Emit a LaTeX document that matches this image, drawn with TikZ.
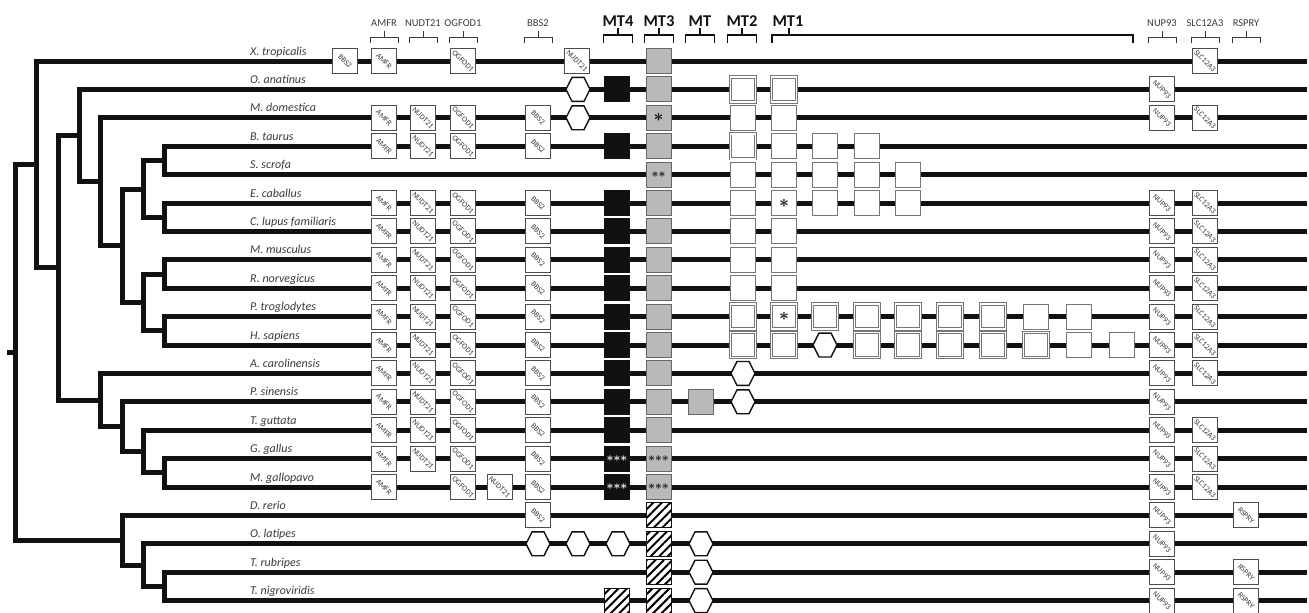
\documentclass[tikz,border=0pt]{standalone}
\usepackage{fontspec}
\setmainfont{Carlito}
\usetikzlibrary{shapes.geometric, patterns.meta}
\definecolor{ink}{HTML}{111111}
\definecolor{mute}{HTML}{3A3A3A}
\definecolor{edge}{HTML}{767676}
\definecolor{shade}{HTML}{B9B9B9}
\tikzset{
  branch/.style ={draw=ink, line width=5pt},
  species/.style={font=\fontsize{12}{14}\selectfont\itshape, text=mute,
                  anchor=base west, inner sep=0pt},
  glabel/.style ={font=\fontsize{10.5}{12}\selectfont, text=mute},
  mtlabel/.style={font=\fontsize{16.5}{18}\selectfont\bfseries, text=ink},
  brak/.style   ={draw=mute, line width=0.8pt},
  brakb/.style  ={draw=ink, line width=1.6pt},
  cell/.style   ={minimum size=25pt, inner sep=0pt, line width=0.9pt},
  gene/.style   ={cell, draw=black!70, fill=white,
                  font=\fontsize{7.8}{9}\selectfont, text=mute},
  mtw/.style    ={cell, draw=edge, fill=white, text=ink},
  mtd/.style    ={cell, draw=edge, double=white, double distance=1.6pt, fill=white, text=ink},
  mtk/.style    ={cell, draw=ink, fill=ink, text=white},
  mtg/.style    ={cell, draw=black!60, fill=shade, text=ink},
  mth/.style    ={cell, draw=ink, preaction={fill=white},
                  pattern={Lines[angle=45, distance=6pt, line width=2pt]}},
  hexa/.style   ={regular polygon, regular polygon sides=6, draw=ink, fill=white,
                  line width=1.4pt, minimum size=24pt, inner sep=0pt, yscale=1.15},
  star/.style   ={font=\fontsize{16}{16}\selectfont\boldmath},
  stars/.style  ={font=\fontsize{12.5}{13}\selectfont\boldmath}
}

\begin{document}
\begin{tikzpicture}[x=1pt, y=-1pt]
  \useasboundingbox (0,0) rectangle (1309,613);

  % species rows
  \foreach \n/\sname in {0/X. tropicalis, 1/O. anatinus, 2/M. domestica, 3/B. taurus,
      4/S. scrofa, 5/E. caballus, 6/C. lupus familiaris, 7/M. musculus,
      8/R. norvegicus, 9/P. troglodytes, 10/H. sapiens, 11/A. carolinensis,
      12/P. sinensis, 13/T. guttata, 14/G. gallus, 15/M. gallopavo, 16/D. rerio,
      17/O. latipes, 18/T. rubripes, 19/T. nigroviridis} {
    \coordinate (l\n) at (1307,{61+28.4*\n});
    \node[species] (s\n) at (250,{55+28.4*\n}) {\sname};
  }

  % tree
  \coordinate (stem)   at (7,352);
  \coordinate (root)   at (15,352);
  \coordinate (tetra)  at (36,164);
  \coordinate (amnio)  at (58,267);
  \coordinate (mamm)   at (79,135);
  \coordinate (ther)   at (100,181);
  \coordinate (euth)   at (122,245.5);
  \coordinate (laur)   at (143,189);
  \coordinate (cet)    at (164,160.4);
  \coordinate (hd)     at (164,217.2);
  \coordinate (euarch) at (143,302.4);
  \coordinate (rod)    at (164,274);
  \coordinate (prim)   at (164,330.8);
  \coordinate (saur)   at (100,400);
  \coordinate (arch)   at (122,426);
  \coordinate (birds)  at (143,451.5);
  \coordinate (gall)   at (164,472.8);
  \coordinate (fish)   at (122,540.5);
  \coordinate (perc)   at (143,565);
  \coordinate (tetr)   at (164,586.4);

  \draw[branch] (stem) -- (root);
  \draw[branch] (tetra) -| (root) |- (fish);
  \draw[branch] (l0) -| (tetra) |- (amnio);
  \draw[branch] (mamm) -| (amnio) |- (saur);
  \draw[branch] (l1) -| (mamm) |- (ther);
  \draw[branch] (l2) -| (ther) |- (euth);
  \draw[branch] (laur) -| (euth) |- (euarch);
  \draw[branch] (cet) -| (laur) |- (hd);
  \draw[branch] (l3) -| (cet) |- (l4);
  \draw[branch] (l5) -| (hd) |- (l6);
  \draw[branch] (rod) -| (euarch) |- (prim);
  \draw[branch] (l7) -| (rod) |- (l8);
  \draw[branch] (l9) -| (prim) |- (l10);
  \draw[branch] (l11) -| (saur) |- (arch);
  \draw[branch] (l12) -| (arch) |- (birds);
  \draw[branch] (l13) -| (birds) |- (gall);
  \draw[branch] (l14) -| (gall) |- (l15);
  \draw[branch] (l16) -| (fish) |- (perc);
  \draw[branch] (l17) -| (perc) |- (tetr);
  \draw[branch] (l18) -| (tetr) |- (l19);

  % headers
  \foreach \x/\g in {384/AMFR, 423/NUDT21, 463/OGFOD1, 538/BBS2,
                     1162/NUP93, 1205/SLC12A3, 1246/RSPRY} {
    \node[glabel] (h\g) at (\x,23) {\g};
    \draw[brak] (\x-14,43) -- (\x-14,37) -- (\x+14,37) -- (\x+14,43) (\x,37) -- (\x,31);
  }
  \foreach \x/\m in {618/MT4, 659/MT3, 700/MT, 742/MT2} {
    \node[mtlabel] (h\m) at (\x,21) {\m};
    \draw[brakb] (\x-14.5,43) -- (\x-14.5,35) -- (\x+14.5,35) -- (\x+14.5,43) (\x,35) -- (\x,28);
  }
  \node[mtlabel] (hMT1) at (788,21) {MT1};
  \draw[brakb] (772,43) -- (772,35) -- (1133,35) -- (1133,43) (789,35) -- (789,28);

  % flanking genes
  \foreach \i in {0,2,3,5,6,...,15}
    \node[gene] (amfr\i) at (384,{61+28.4*\i}) {\rotatebox{-45}{AMFR}};
  \foreach \i in {2,3,5,6,...,14}
    \node[gene] (nudt\i) at (423,{61+28.4*\i}) {\rotatebox{-45}{NUDT21}};
  \node[gene] (nudt0)  at (577,61) {\rotatebox{-45}{NUDT21}};
  \node[gene] (nudt15) at (499.5,{61+28.4*15}) {\rotatebox{-45}{NUDT21}};
  \foreach \i in {0,2,3,5,6,...,15}
    \node[gene] (ogfod\i) at (463,{61+28.4*\i}) {\rotatebox{-45}{OGFOD1}};
  \foreach \i in {2,3,5,6,...,16}
    \node[gene] (bbs\i) at (538,{61+28.4*\i}) {\rotatebox{-45}{BBS2}};
  \node[gene] (bbs0) at (345,61) {\rotatebox{-45}{BBS2}};
  \foreach \i in {1,2,5,6,...,19}
    \node[gene] (nup\i) at (1162,{61+28.4*\i}) {\rotatebox{-45}{NUP93}};
  \foreach \i in {0,2,5,6,7,8,9,10,11,13,14,15}
    \node[gene] (slc\i) at (1205,{61+28.4*\i}) {\rotatebox{-45}{SLC12A3}};
  \foreach \i in {16,18,19}
    \node[gene] (rspry\i) at (1246,{61+28.4*\i}) {\rotatebox{-45}{RSPRY}};

  % MT4
  \foreach \i in {1,3,5,6,...,13}
    \node[mtk] (mtf\i) at (617,{61+28.4*\i}) {};
  \foreach \i in {14,15}
    \node[mtk, stars] (mtf\i) at (617,{61+28.4*\i}) {${\ast}{\ast}{\ast}$};
  \node[mth] (mtf19) at (617,{61+28.4*19}) {};

  % MT3
  \foreach \i in {0,1,3,5,6,...,13}
    \node[mtg] (mtt\i) at (658.5,{61+28.4*\i}) {};
  \node[mtg, star] (mtt2) at (658.5,{61+28.4*2}) {$\ast$};
  \node[mtg, stars] (mtt4) at (658.5,{61+28.4*4}) {${\ast}{\ast}$};
  \foreach \i in {14,15}
    \node[mtg, stars] (mtt\i) at (658.5,{61+28.4*\i}) {${\ast}{\ast}{\ast}$};
  \foreach \i in {16,...,19}
    \node[mth] (mtt\i) at (658.5,{61+28.4*\i}) {};

  % MT
  \node[mtg] (mt12) at (701,{61+28.4*12}) {};

  % MT2, MT1 and further copies
  \foreach \i/\x in {2/743, 4/743, 5/743, 6/743, 7/743, 8/743,
                     2/784, 3/784, 4/784, 6/784, 7/784, 8/784,
                     3/825, 3/867, 4/825, 4/867, 4/908, 5/825, 5/867, 5/908,
                     9/1036, 9/1079, 10/1079, 10/1122}
    \node[mtw] (c\i-\x) at (\x,{61+28.4*\i}) {};
  \node[mtw, star] (c5-784) at (784,{61+28.4*5}) {$\ast$};
  \foreach \i/\x in {1/743, 3/743, 9/743, 10/743, 1/784, 10/784,
                     9/825, 9/867, 9/908, 9/950, 9/993,
                     10/867, 10/908, 10/950, 10/993, 10/1036}
    \node[mtd] (c\i-\x) at (\x,{61+28.4*\i}) {};
  \node[mtd, star] (c9-784) at (784,{61+28.4*9}) {$\ast$};

  % pseudogenes
  \foreach \i/\x in {1/578, 2/578, 17/538, 17/578, 17/618, 11/743, 12/743,
                     10/825, 17/701, 18/701, 19/701}
    \node[hexa] (hx\i-\x) at (\x,{61+28.4*\i}) {};
\end{tikzpicture}
\end{document}
